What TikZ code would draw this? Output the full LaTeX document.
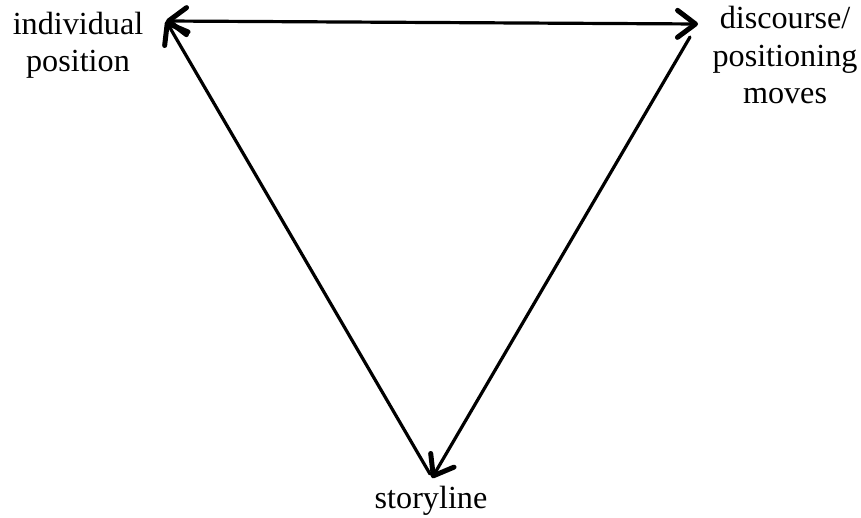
\documentclass[tikz,border=0pt]{standalone}
\usepackage{fontspec}
\setmainfont{Liberation Serif}
\usetikzlibrary{arrows.meta}
\tikzset{
  lbl/.style={inner sep=0pt, align=center, font=\fontsize{32.3}{38}\selectfont, anchor=base},
  conn/.style={line width=3.2bp, line cap=round},
  barb/.tip={Straight Barb[length=18bp,width=27bp,line width=5bp,round]},
  tip/.style={-barb}
}
\begin{document}
\begin{tikzpicture}[x=1bp,y=-1bp]
\useasboundingbox (0,0) rectangle (861,518);
\node[lbl] (ind) at (78,72) {individual\\position};
\node[lbl] (dis) at (785,104) {discourse/\\positioning\\moves};
\node[lbl] (sto) at (431,508) {storyline};
\coordinate (A) at (166,21);
\coordinate (B) at (698,24);
\coordinate (C) at (432,478);
\coordinate (Bs) at (690,37);
\coordinate (Cs) at (430,474);
\draw[conn,barb-barb] (A) -- (B);
\draw[conn,tip] (Cs) -- (A);
\draw[conn,tip] (Bs) -- (C);
\end{tikzpicture}
\end{document}
